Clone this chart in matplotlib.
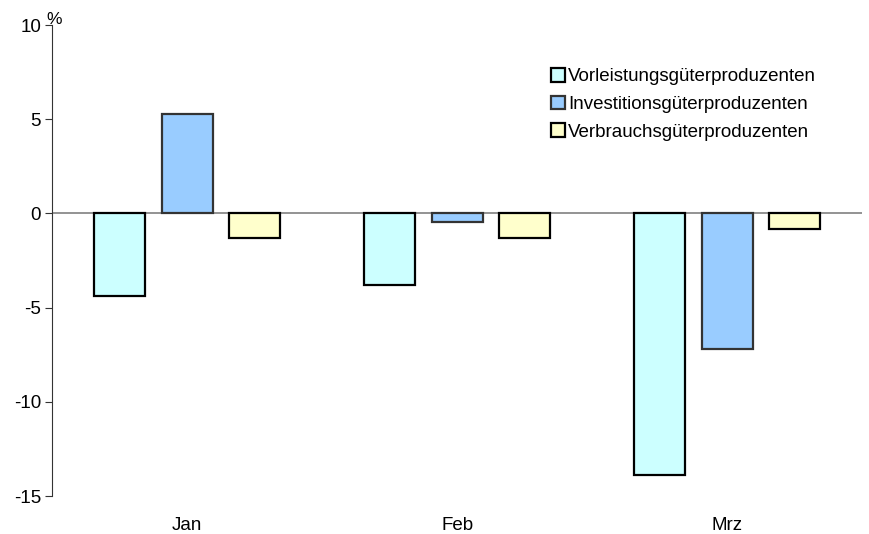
import matplotlib
matplotlib.use("Agg")
import matplotlib.pyplot as plt
import numpy as np

plt.rcParams['font.family'] = ['Liberation Sans', 'DejaVu Sans']

months = ["Jan", "Feb", "Mrz"]
series_names = ["Vorleistungsgüterproduzenten",
                "Investitionsgüterproduzenten",
                "Verbrauchsgüterproduzenten"]
vorleistung = [-4.4, -3.8, -13.9]
investition = [5.3, -0.45, -7.2]
verbrauch = [-1.3, -1.3, -0.8]

colors = ["#CCFFFF", "#99CCFF", "#FFFFCC"]
edges = ["#000000", "#333333", "#000000"]

fs = 13.5

fig = plt.figure(figsize=(8.7, 5.34), dpi=100)
ax = fig.add_axes([0.06, 0.071, 0.931, 0.882])

x = np.arange(len(months))
step = 0.25
width = 0.19
for i, (vals, name) in enumerate(zip([vorleistung, investition, verbrauch], series_names)):
    ax.bar(x + (i - 1) * step, vals, width, color=colors[i], edgecolor=edges[i],
           linewidth=1.6, label=name, zorder=3)

ax.axhline(0, color="#808080", linewidth=1.2, zorder=2)
ax.set_xlim(-0.5, 2.5)
ax.set_ylim(-15, 10)
ax.set_yticks([-15, -10, -5, 0, 5, 10])
ax.set_yticklabels(["-15", "-10", "-5", "0", "5", "10"])
ax.set_xticks(x)
ax.set_xticklabels(months)
ax.tick_params(axis='x', length=0, labelsize=fs, pad=15)
ax.tick_params(axis='y', direction='out', length=5, labelsize=fs, color="#333333", pad=3)
for s in ["top", "right", "bottom"]:
    ax.spines[s].set_visible(False)
ax.spines["left"].set_color("#333333")

ax.text(-0.007, 0.995, "%", transform=ax.transAxes, fontsize=fs - 1, ha="left", va="bottom")

leg = ax.legend(loc="upper left", bbox_to_anchor=(0.595, 0.945), frameon=False,
                fontsize=fs, handlelength=0.75, handleheight=0.75,
                handletextpad=0.15, labelspacing=0.55)

fig.savefig("out.png", dpi=100)
